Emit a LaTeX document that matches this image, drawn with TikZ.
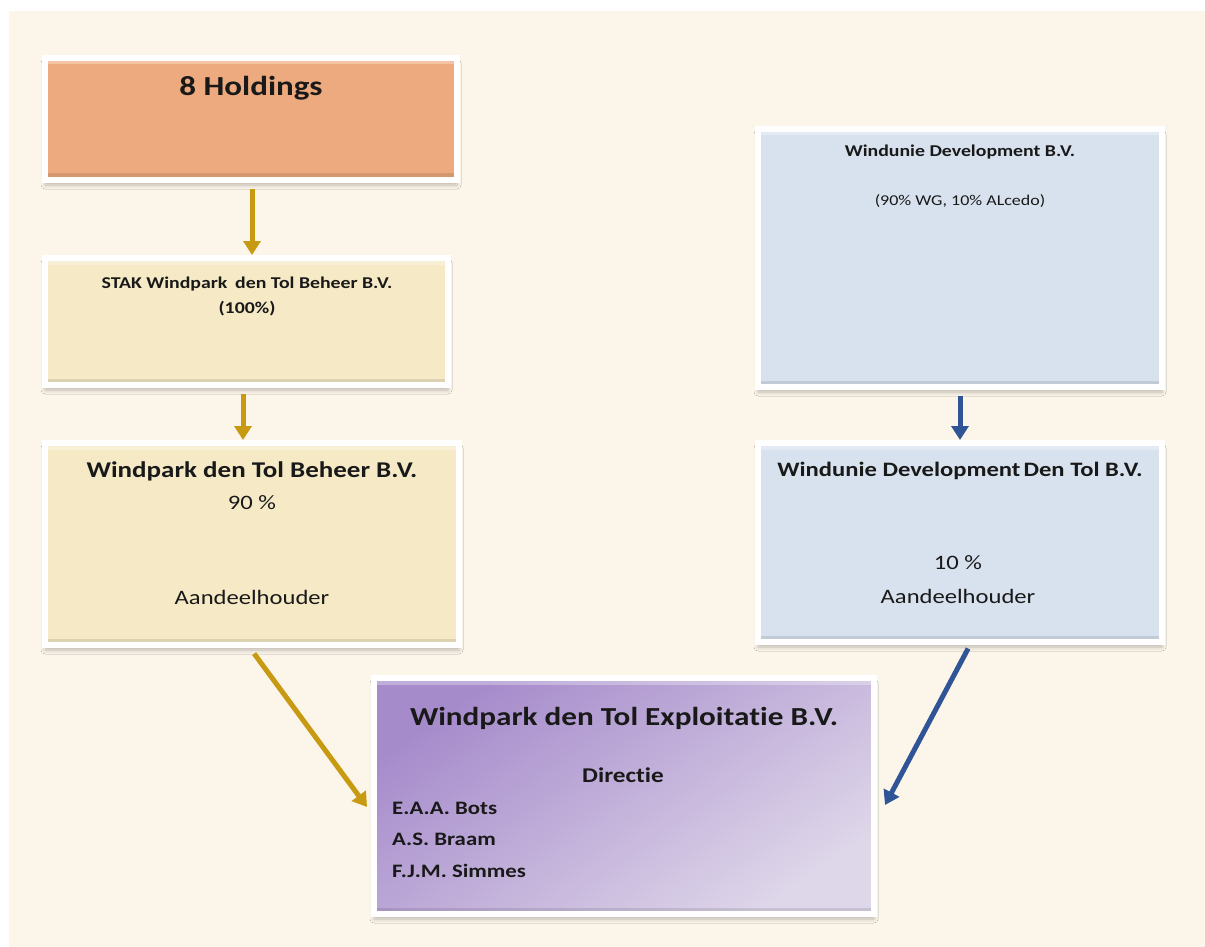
\documentclass[tikz,border=0pt]{standalone}
\usepackage{fontspec}
\setmainfont{Carlito}[Ligatures=NoCommon]
\usetikzlibrary{positioning,arrows.meta,shadows.blur}
\definecolor{cream}{HTML}{FCF5EA}
\definecolor{holdorange}{HTML}{EDAA7E}
\definecolor{stakyellow}{HTML}{F5E9C6}
\definecolor{windblue}{HTML}{D8E2EE}
\definecolor{purptop}{HTML}{A68BCB}
\definecolor{purpbot}{HTML}{DED6E9}
\definecolor{goldline}{HTML}{C89A12}
\definecolor{blueline}{HTML}{2F5597}
\tikzset{
  box/.style={draw=white, line width=6pt, inner sep=0pt,
    blur shadow={shadow xshift=0pt, shadow yshift=-5pt, shadow blur radius=4pt, shadow opacity=25},
    path picture={
      \fill[black, opacity=0.1] (path picture bounding box.south west) rectangle ([yshift=6.5pt]path picture bounding box.south east);
      \fill[white, opacity=0.3] (path picture bounding box.north west) rectangle ([yshift=-6.5pt]path picture bounding box.north east);
    }},
  goldarrow/.style={-{Triangle[width=17pt,length=14pt]}, line width=5pt, draw=goldline},
  bluearrow/.style={-{Triangle[width=17pt,length=14pt]}, line width=5pt, draw=blueline},
  txt/.style={anchor=base, inner sep=0pt, text=black!90, xscale=1.2, transform shape}
}
\newcommand{\fs}[1]{\fontsize{#1}{#1}\selectfont}
\begin{document}
\begin{tikzpicture}[x=1pt, y=-1pt]
\useasboundingbox (0,0) rectangle (1205,947);
\fill[white] (0,0) rectangle (1205,947);
\fill[cream] (9,11) rectangle (1205,947);

% boxes
\node[box, fill=holdorange, minimum width=412pt, minimum height=122pt] (hold) at (251,119) {};
\node[box, fill=stakyellow, minimum width=403pt, minimum height=127pt] (stak) at (246.5,321.5) {};
\node[box, fill=windblue, minimum width=404pt, minimum height=258pt] (dev) at (960,258) {};
\node[box, fill=stakyellow, minimum width=414pt, minimum height=202pt] (beheer) at (252,544) {};
\node[box, fill=windblue, minimum width=404pt, minimum height=199pt] (dentol) at (960,542.5) {};
\node[box, top color=purptop, bottom color=purpbot, shading angle=35,
  minimum width=500pt, minimum height=236pt] (expl) at (624,796) {};

% texts
\node[txt, font=\bfseries\fs{27.5}] (tHold) at (251,96) {8 Holdings};
\node[txt, font=\bfseries\fs{16.5}] (tStak) at (247,288) {STAK Windpark\, den Tol Beheer B.V.};
\node[txt, font=\bfseries\fs{16.5}] (tStakPct) at (247,313) {(100\%)};
\node[txt, font=\bfseries\fs{16.5}] (tDev) at (960,157) {Windunie Development B.V.};
\node[txt, font=\fs{15}] (tDevPct) at (960,205) {(90\% WG, 10\% ALcedo)};
\node[txt, font=\bfseries\fs{22.5}] (tBeheer) at (252,477) {Windpark den Tol Beheer B.V.};
\node[txt, font=\fs{20.5}] (tBeheerPct) at (252,509) {90 \%};
\node[txt, font=\fs{20.5}] (tBeheerRol) at (252,604) {Aandeelhouder};
\node[txt, font=\bfseries\fs{20.5}] (tDentol) at (960,476) {Windunie Development\kern-2pt{} Den Tol B.V.};
\node[txt, font=\fs{20.5}] (tDentolPct) at (958,569) {10 \%};
\node[txt, font=\fs{20.5}] (tDentolRol) at (958,603) {Aandeelhouder};
\node[txt, font=\bfseries\fs{26}] (tExpl) at (624,725) {Windpark den Tol Exploitatie B.V.};
\node[txt, font=\bfseries\fs{21}] (tDir) at (623,782) {Directie};
\node[txt, anchor=base west, font=\bfseries\fs{19}] (tBots) at (392,814) {E.A.A. Bots};
\node[txt, anchor=base west, font=\bfseries\fs{19}] (tBraam) at (392,845) {A.S. Braam};
\node[txt, anchor=base west, font=\bfseries\fs{19}] (tSimmes) at (392,877) {F.J.M. Simmes};

% connectors
\draw[goldarrow, shorten <=6pt] ([xshift=1pt]hold.south) -- ([xshift=1pt]hold.south |- stak.north);
\draw[goldarrow, shorten <=6pt] ([xshift=-3.5pt]stak.south) -- ([xshift=-3.5pt]stak.south |- beheer.north);
\draw[bluearrow, shorten <=6pt] (dev.south) -- (dev.south |- dentol.north);
\draw[goldarrow, shorten <=7pt] ([xshift=-2pt]beheer.south) -- ([xshift=-4pt, yshift=-11pt]expl.west);
\draw[bluearrow, shorten <=4pt] ([xshift=10pt]dentol.south) -- ([xshift=8pt, yshift=-9pt]expl.east);
\end{tikzpicture}
\end{document}
